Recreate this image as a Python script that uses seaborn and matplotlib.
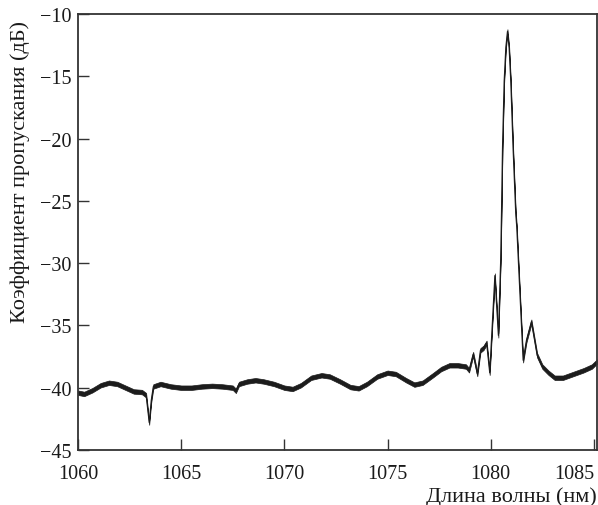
import numpy as np
import pandas as pd
import matplotlib
matplotlib.use("Agg")
import matplotlib.pyplot as plt
import seaborn as sns

# Transmission spectrum of the fibre grating: wavelength (nm) and transmission (dB)
wavelength_nm = [
    1060.0, 1060.3, 1060.7, 1061.1, 1061.5, 1061.9, 1062.3, 1062.7, 1063.1,
    1063.3, 1063.45, 1063.55, 1063.65, 1064.0, 1064.5, 1065.0, 1065.5, 1066.0,
    1066.5, 1067.0, 1067.5, 1067.65, 1067.8, 1068.2, 1068.6, 1069.0, 1069.5,
    1070.0, 1070.4, 1070.8, 1071.3, 1071.8, 1072.2, 1072.7, 1073.2, 1073.6,
    1074.0, 1074.5, 1075.0, 1075.4, 1075.9, 1076.3, 1076.7, 1077.2, 1077.6,
    1078.0, 1078.4, 1078.8, 1078.95, 1079.15, 1079.35, 1079.5, 1079.65, 1079.8,
    1079.95, 1080.2, 1080.37, 1080.48, 1080.52, 1080.57, 1080.65, 1080.73,
    1080.81, 1080.89, 1080.97, 1081.08, 1081.21, 1081.26, 1081.34, 1081.57,
    1081.73, 1081.97, 1082.25, 1082.5, 1082.8, 1083.1, 1083.5, 1084.0, 1084.5,
    1084.9, 1085.15,
]
transmission_db = [
    -40.4, -40.5, -40.2, -39.8, -39.6, -39.7, -40.0, -40.3, -40.35,
    -40.6, -42.8, -41.0, -39.9, -39.7, -39.9, -40.0, -40.0, -39.9,
    -39.85, -39.9, -40.0, -40.25, -39.7, -39.5, -39.4, -39.5, -39.7,
    -40.0, -40.1, -39.8, -39.2, -39.0, -39.1, -39.5, -39.95, -40.05,
    -39.7, -39.1, -38.8, -38.9, -39.4, -39.75, -39.6, -39.0, -38.5,
    -38.2, -38.2, -38.3, -38.6, -37.3, -38.9, -37.0, -36.8, -36.4,
    -38.8, -31.0, -35.8, -29.8, -26.0, -20.7, -15.4, -12.7,
    -11.4, -12.7, -15.4, -20.7, -26.0, -27.1, -29.9, -37.8,
    -36.2, -34.7, -37.4, -38.3, -38.8, -39.2, -39.2, -38.9, -38.6,
    -38.3, -37.9,
]

x_ticks = [1060, 1065, 1070, 1075, 1080, 1085]
y_ticks = [-45, -40, -35, -30, -25, -20, -15, -10]
x_label = "Длина волны (нм)"
y_label = "Коэффициент пропускания (дБ)"

sns.set_theme(style="white")
plt.rcParams["font.family"] = ["Liberation Serif", "DejaVu Serif"]

df = pd.DataFrame({"wavelength": wavelength_nm, "transmission": transmission_db})

fig = plt.figure(figsize=(5.98, 5.06), dpi=100)
ax = fig.add_axes([78 / 598, 55 / 506, 519 / 598, 436 / 506])

line_color = "#1c1c1c"
# measurement noise is drawn as a narrow band around the trace
noise_half_width = 0.18
y_arr = np.asarray(transmission_db)
ax.fill_between(wavelength_nm, y_arr - noise_half_width, y_arr + noise_half_width,
                color=line_color, linewidth=0.5)
sns.lineplot(data=df, x="wavelength", y="transmission", ax=ax, color=line_color,
             linewidth=0.8, estimator=None, sort=False)

ax.set_xlim(1060, 1085.15)
ax.set_ylim(-45, -10)
ax.set_xticks(x_ticks)
ax.set_yticks(y_ticks)
ax.set_xticklabels([str(t) for t in x_ticks])
ax.set_yticklabels([f"\u2212{abs(t)}" for t in y_ticks])

ax.tick_params(axis="both", direction="in", length=8, width=1.0, color="#333333",
               labelsize=14.5, labelcolor="#1a1a1a")
ax.tick_params(axis="x", pad=10, top=False, bottom=True)
ax.tick_params(axis="y", pad=5, left=True, right=False)
# keep the last wavelength label inside the figure
ax.get_xticklabels()[-1].set_horizontalalignment("right")

for side in ["top", "right", "bottom", "left"]:
    ax.spines[side].set_visible(True)
    ax.spines[side].set_color("#333333")
    ax.spines[side].set_linewidth(1.3)

ax.set_xlabel(x_label, fontsize=16, color="#1a1a1a", ha="right", va="baseline")
ax.xaxis.set_label_coords(1.0, -0.117)
ax.set_ylabel(y_label, fontsize=16, color="#1a1a1a", va="center")
ax.yaxis.set_label_coords(-0.112, 0.64)

fig.savefig("out.png", dpi=100, facecolor="white")
